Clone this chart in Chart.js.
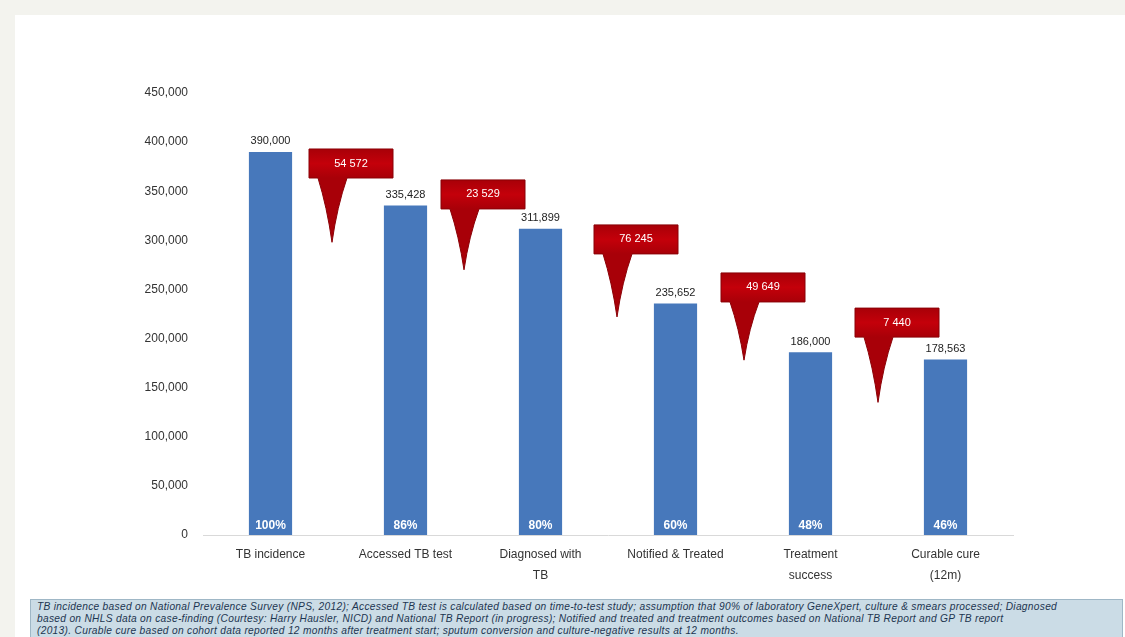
<!DOCTYPE html>
<html lang="en">
<head>
  <meta charset="UTF-8" />
  <title>TB cascade</title>
  <style>
    body {
      margin: 0;
      width: 1125px;
      height: 637px;
      overflow: hidden;
      background-color: #f3f3ee;
      font-family: "Liberation Sans", Arial, sans-serif;
      position: relative;
    }
    #panel {
      position: absolute;
      left: 15px;
      top: 15px;
      width: 1110px;
      height: 622px;
      background: #ffffff;
    }
    #chartBox {
      position: absolute;
      left: 0;
      top: 0;
      width: 1125px;
      height: 598px;
    }
    #nota {
      position: absolute;
      left: 30px;
      top: 599px;
      width: 1093px;
      height: 40px;
      background: #cbdce6;
      border: 1px solid #9fb7c6;
      color: #1d3550;
      font-size: 10.2px;
      letter-spacing: 0.3px;
      font-style: italic;
      line-height: 12px;
      padding: 1px 6px;
      box-sizing: border-box;
      white-space: nowrap;
      overflow: hidden;
    }
  </style>
  <script src="https://cdn.jsdelivr.net/npm/chart.js"></script>
</head>
<body>
  <div id="panel"></div>
  <div id="chartBox"><canvas id="grafico" width="1125" height="598"></canvas></div>
  <div id="nota">
    TB incidence based on National Prevalence Survey (NPS, 2012); Accessed TB test is calculated based on time-to-test study; assumption that 90% of laboratory GeneXpert, culture &amp; smears processed; Diagnosed<br />
    based on NHLS data on case-finding (Courtesy: Harry Hausler, NICD) and National TB Report (in progress); Notified and treated and treatment outcomes based on National TB Report and GP TB report<br />
    (2013). Curable cure based on cohort data reported 12 months after treatment start; sputum conversion and culture-negative results at 12 months.
  </div>

  <script>
    // categorias e valores
    const categorias = [
      "TB incidence",
      "Accessed TB test",
      ["Diagnosed with", "TB"],
      "Notified & Treated",
      ["Treatment", "success"],
      ["Curable cure", "(12m)"]
    ];
    const valores = [390000, 335428, 311899, 235652, 186000, 178563];
    const rotulosValor = ["390,000", "335,428", "311,899", "235,652", "186,000", "178,563"];
    // perdas entre etapas (caixas vermelhas)
    const perdas = ["54 572", "23 529", "76 245", "49 649", "7 440"];
    const ticksY = [0, 50000, 100000, 150000, 200000, 250000, 300000, 350000, 400000, 450000];

    // posição das caixas: topo e ponta da seta em unidades do eixo, desvio x em px
    const caixas = {
      topo: [393000, 361500, 315700, 266800, 231000],
      ponta: [298000, 270000, 222000, 178000, 135000],
      dx: [-6, -9, 9, 1, 0]
    };

    const AZUL = "#4778bb";
    const VERMELHO = "#c4000a";

    const rotulos = {
      id: "rotulos",
      afterDatasetsDraw(chart) {
        const ctx = chart.ctx;
        const meta = chart.getDatasetMeta(0);
        const x = chart.scales.x;
        const y = chart.scales.y;
        ctx.save();

        // valores acima das barras e percentuais dentro
        meta.data.forEach((bar, i) => {
          ctx.textAlign = "center";
          ctx.textBaseline = "bottom";
          ctx.fillStyle = "#222";
          ctx.font = "11px 'Liberation Sans', Arial";
          ctx.fillText(rotulosValor[i], bar.x, bar.y - 5);

          const pct = Math.round((valores[i] / valores[0]) * 100) + "%";
          ctx.fillStyle = "#ffffff";
          ctx.font = "bold 12px 'Liberation Sans', Arial";
          ctx.textBaseline = "middle";
          ctx.fillText(pct, bar.x, y.getPixelForValue(0) - 9);
        });

        // caixas vermelhas com seta
        perdas.forEach((txt, i) => {
          const meio = (x.getPixelForValue(i) + x.getPixelForValue(i + 1)) / 2;
          const px = meio + caixas.dx[i];
          const esq = px - 23;
          const w = 84;
          const h = 29;
          const topo = y.getPixelForValue(caixas.topo[i]);
          const base = topo + h;
          const py = y.getPixelForValue(caixas.ponta[i]);

          const grad = ctx.createLinearGradient(0, topo, 0, base);
          grad.addColorStop(0, "#a80008");
          grad.addColorStop(0.5, VERMELHO);
          grad.addColorStop(1, "#a80008");

          ctx.beginPath();
          ctx.moveTo(esq, topo);
          ctx.lineTo(esq + w, topo);
          ctx.lineTo(esq + w, base);
          ctx.lineTo(esq + 38, base);
          ctx.quadraticCurveTo(esq + 28, base + (py - base) * 0.45, px, py);
          ctx.quadraticCurveTo(esq + 18, base + (py - base) * 0.45, esq + 9, base);
          ctx.lineTo(esq, base);
          ctx.closePath();
          ctx.fillStyle = grad;
          ctx.fill();
          ctx.strokeStyle = "#8a0006";
          ctx.lineWidth = 1;
          ctx.stroke();

          ctx.fillStyle = "#ffffff";
          ctx.font = "11px 'Liberation Sans', Arial";
          ctx.textAlign = "center";
          ctx.textBaseline = "middle";
          ctx.fillText(txt, esq + w / 2, topo + h / 2);
        });
        ctx.restore();
      }
    };

    new Chart(document.getElementById("grafico"), {
      type: "bar",
      data: {
        labels: categorias,
        datasets: [
          {
            data: valores,
            backgroundColor: AZUL,
            borderWidth: 0,
            categoryPercentage: 1,
            barPercentage: 0.32
          }
        ]
      },
      options: {
        responsive: false,
        animation: false,
        layout: { padding: { top: 93, right: 112, bottom: 0, left: 0 } },
        plugins: {
          legend: { display: false },
          tooltip: { enabled: false }
        },
        scales: {
          x: {
            grid: { display: false, drawTicks: false },
            border: { color: "#d9d9d9" },
            ticks: {
              color: "#333",
              font: { family: "'Liberation Sans', Arial", size: 12, lineHeight: 1.75 },
              padding: 9,
              maxRotation: 0,
              autoSkip: false
            },
            afterFit(s) { s.height = 63; }
          },
          y: {
            min: 0,
            max: 450000,
            afterBuildTicks(s) { s.ticks = ticksY.map(v => ({ value: v })); },
            grid: { display: false, drawTicks: false },
            border: { display: false },
            ticks: {
              color: "#333",
              font: { family: "'Liberation Sans', Arial", size: 12 },
              padding: 15,
              callback: v => v.toLocaleString("en-US")
            },
            afterFit(s) { s.width = 203; }
          }
        }
      },
      plugins: [rotulos]
    });
  </script>
</body>
</html>
